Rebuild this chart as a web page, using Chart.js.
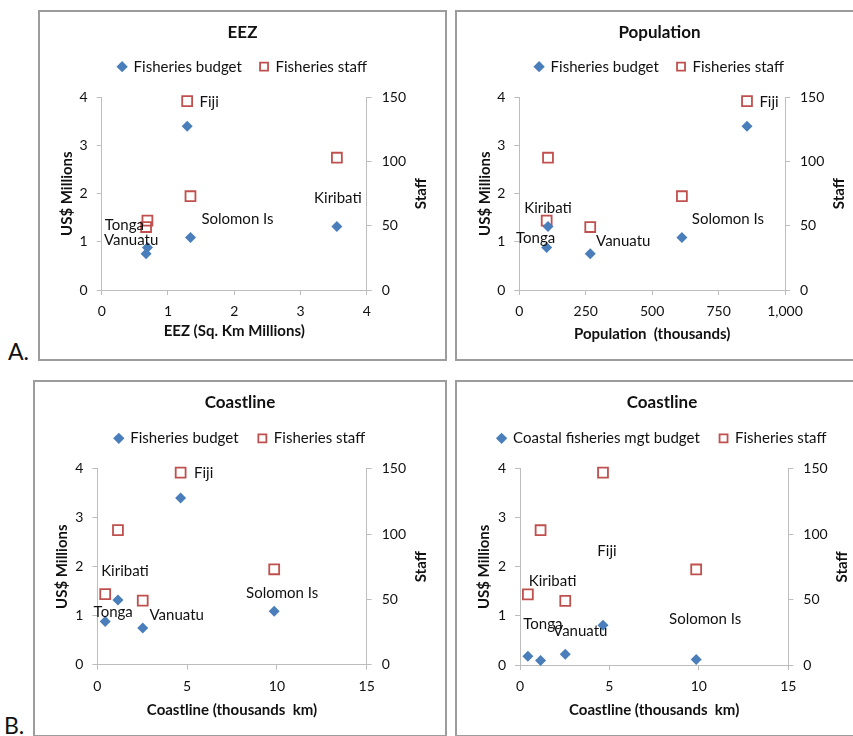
<!DOCTYPE html>
<html>
<head>
<meta charset="utf-8">
<script src="https://cdn.jsdelivr.net/npm/chart.js@4.4.1/dist/chart.umd.min.js"></script>
<style>
  html, body { margin: 0; padding: 0; background: #fff; }
  body { position: relative; width: 853px; height: 736px; overflow: hidden; font-family: Lato, "Open Sans", sans-serif; }
  .panel { position: absolute; box-sizing: border-box; border: 2px solid #9c9c9c; background: #fff; }
  .panel canvas { display: block; }
  .tag { position: absolute; font-size: 23px; line-height: 23px; color: #111; }
</style>
</head>
<body>
<div class="panel" id="pA1"><canvas id="cA1"></canvas></div>
<div class="panel" id="pA2"><canvas id="cA2"></canvas></div>
<div class="panel" id="pB1"><canvas id="cB1"></canvas></div>
<div class="panel" id="pB2"><canvas id="cB2"></canvas></div>
<div class="tag" style="left:8px; top:340px;">A.</div>
<div class="tag" style="left:4px; top:714px;">B.</div>

<script>
  // data
  const countries = ["Fiji", "Kiribati", "Solomon Is", "Tonga", "Vanuatu"];
  const eezMillionKm2 = [1.29, 3.55, 1.34, 0.69, 0.67];
  const populationThousands = [857, 108, 612, 103, 267];
  const coastlineThousandKm = [4.64, 1.15, 9.85, 0.44, 2.53];
  const fisheriesBudget = [3.40, 1.32, 1.09, 0.88, 0.75];
  const coastalMgtBudget = [0.81, 0.09, 0.11, 0.18, 0.22];
  const fisheriesStaff = [147, 103, 73, 54, 49];

  const budgetTicks = [0, 1, 2, 3, 4];
  const staffTicks = [0, 50, 100, 150];

  const FONT = "Lato, 'Open Sans', sans-serif";
  const TEXT = "#111";
  const AXIS = "#bdbdbd";
  const BLUE = "#4a7ebb";
  const RED = "#c0504d";

  // label offsets from the budget marker, px
  const labelOffsets = {
    A1: [[22, -24], [1, -28], [47, -18], [-23, -22], [-15, -14]],
    A2: [[22, -24], [0, -18], [46, -18], [-11, -9], [33, -13]],
    B1: [[23, -25], [7, -29], [8, -18], [8, -9], [34, -13]],
    B2: [[4, -74], [12, -79], [9, -40], [15, -32], [15, -23]],
  };

  function labelPlugin(xs, ys, offsets) {
    return {
      id: "pointNames",
      afterDatasetsDraw(chart) {
        const { ctx, scales, chartArea } = chart;
        ctx.save();
        ctx.fillStyle = TEXT;
        ctx.textAlign = "center";
        ctx.textBaseline = "middle";
        ctx.font = "15px " + FONT;
        countries.forEach((name, i) => {
          const px = scales.x.getPixelForValue(xs[i]) + offsets[i][0];
          const py = scales.y.getPixelForValue(ys[i]) + offsets[i][1];
          ctx.fillText(name, px, py);
        });
        // right axis title, reads bottom to top like the left one
        ctx.font = "bold 15px " + FONT;
        ctx.translate(chartArea.right + 54, (chartArea.top + chartArea.bottom) / 2);
        ctx.rotate(-Math.PI / 2);
        ctx.fillText("Staff", 0, 0);
        ctx.restore();
      },
    };
  }

  function makeChart(key, box, cfg) {
    const panel = document.getElementById("p" + key);
    panel.style.left = box.left + "px";
    panel.style.top = box.top + "px";
    panel.style.width = box.w + "px";
    panel.style.height = box.h + "px";
    const cw = box.w - 4, ch = box.h - 4;
    const canvas = document.getElementById("c" + key);
    canvas.width = cw;
    canvas.height = ch;

    const legendPad = box.legendY - 36.5;
    const spacer = box.area.t - (29 + 15 + legendPad + 10) - 1;

    const tickFont = { family: FONT, size: 14 };
    const axisTitleFont = { family: FONT, size: 15, weight: "bold" };

    return new Chart(canvas, {
      type: "scatter",
      data: {
        datasets: [
          {
            label: cfg.budgetLabel,
            data: cfg.xs.map((v, i) => ({ x: v, y: cfg.budget[i] })),
            yAxisID: "y",
            pointStyle: "rectRot",
            pointRadius: 5.5,
            pointHoverRadius: 5.5,
            backgroundColor: BLUE,
            borderColor: BLUE,
            borderWidth: 0,
            clip: false,
          },
          {
            label: "Fisheries staff",
            data: cfg.xs.map((v, i) => ({ x: v, y: fisheriesStaff[i] })),
            yAxisID: "y1",
            pointStyle: "rect",
            pointRadius: 7,
            pointHoverRadius: 7,
            backgroundColor: "rgba(255,255,255,0)",
            borderColor: RED,
            borderWidth: 1.8,
            clip: false,
          },
        ],
      },
      options: {
        responsive: false,
        animation: false,
        layout: { padding: 0 },
        plugins: {
          title: {
            display: true,
            text: cfg.title,
            color: TEXT,
            font: { family: FONT, size: 17, weight: "bold", lineHeight: 1 },
            padding: { top: 12, bottom: 0 },
          },
          legend: {
            display: true,
            labels: {
              usePointStyle: true,
              boxWidth: 8,
              boxHeight: 8,
              padding: legendPad,
              color: TEXT,
              font: { family: FONT, size: 15 },
            },
          },
          subtitle: {
            display: true,
            text: " ",
            weight: 500,
            font: { size: 1, lineHeight: 1 },
            padding: { top: 0, bottom: spacer },
          },
          tooltip: { enabled: false },
        },
        scales: {
          x: {
            type: "linear",
            position: "bottom",
            min: cfg.xMin,
            max: cfg.xMax,
            ticks: {
              stepSize: cfg.xStep,
              padding: 8,
              color: TEXT,
              font: tickFont,
              maxRotation: 0,
              callback: (v) => v.toLocaleString("en-US"),
            },
            grid: { drawOnChartArea: false, tickLength: 5, color: AXIS },
            border: { color: AXIS },
            title: {
              display: true,
              text: cfg.xTitle,
              color: TEXT,
              font: axisTitleFont,
              padding: { top: 0, bottom: box.xTitlePad },
            },
            afterFit(s) { s.height = ch - box.area.b; },
          },
          y: {
            position: "left",
            min: budgetTicks[0],
            max: budgetTicks[budgetTicks.length - 1],
            afterBuildTicks(s) { s.ticks = budgetTicks.map((v) => ({ value: v })); },
            ticks: { padding: 9, color: TEXT, font: tickFont },
            grid: { drawOnChartArea: false, tickLength: 5, color: AXIS },
            border: { color: AXIS },
            title: {
              display: true,
              text: "US$ Millions",
              color: TEXT,
              font: axisTitleFont,
              padding: { top: box.yTitlePad, bottom: 0 },
            },
            afterFit(s) { s.width = box.area.l; },
          },
          y1: {
            position: "right",
            min: staffTicks[0],
            max: staffTicks[staffTicks.length - 1],
            afterBuildTicks(s) { s.ticks = staffTicks.map((v) => ({ value: v })); },
            ticks: { padding: 10, color: TEXT, font: tickFont },
            grid: { drawOnChartArea: false, tickLength: 5, color: AXIS },
            border: { color: AXIS },
            afterFit(s) { s.width = cw - box.area.r; },
          },
        },
      },
      plugins: [labelPlugin(cfg.xs, cfg.budget, labelOffsets[key])],
    });
  }

  makeChart("A1",
    { left: 38, top: 10, w: 409, h: 351, area: { l: 61.7, r: 326.7, t: 85.3, b: 278 }, legendY: 54.7, xTitlePad: 19.3, yTitlePad: 17.7 },
    { title: "EEZ", xTitle: "EEZ (Sq. Km Millions)", xs: eezMillionKm2, budget: fisheriesBudget, budgetLabel: "Fisheries budget", xMin: 0, xMax: 4, xStep: 1 });

  makeChart("A2",
    { left: 455, top: 10, w: 409, h: 351, area: { l: 62.3, r: 328, t: 85.3, b: 278 }, legendY: 54.7, xTitlePad: 15.7, yTitlePad: 19 },
    { title: "Population", xTitle: "Population  (thousands)", xs: populationThousands, budget: fisheriesBudget, budgetLabel: "Fisheries budget", xMin: 0, xMax: 1000, xStep: 250 });

  makeChart("B1",
    { left: 33, top: 380, w: 414, h: 357, area: { l: 62.3, r: 331.7, t: 86.7, b: 282.7 }, legendY: 56.3, xTitlePad: 16, yTitlePad: 18.3 },
    { title: "Coastline", xTitle: "Coastline (thousands  km)", xs: coastlineThousandKm, budget: fisheriesBudget, budgetLabel: "Fisheries budget", xMin: 0, xMax: 15, xStep: 5 });

  makeChart("B2",
    { left: 455, top: 380, w: 414, h: 357, area: { l: 63, r: 331.3, t: 86.7, b: 283 }, legendY: 56.3, xTitlePad: 16, yTitlePad: 18.3 },
    { title: "Coastline", xTitle: "Coastline (thousands  km)", xs: coastlineThousandKm, budget: coastalMgtBudget, budgetLabel: "Coastal fisheries mgt budget", xMin: 0, xMax: 15, xStep: 5 });
</script>
</body>
</html>
